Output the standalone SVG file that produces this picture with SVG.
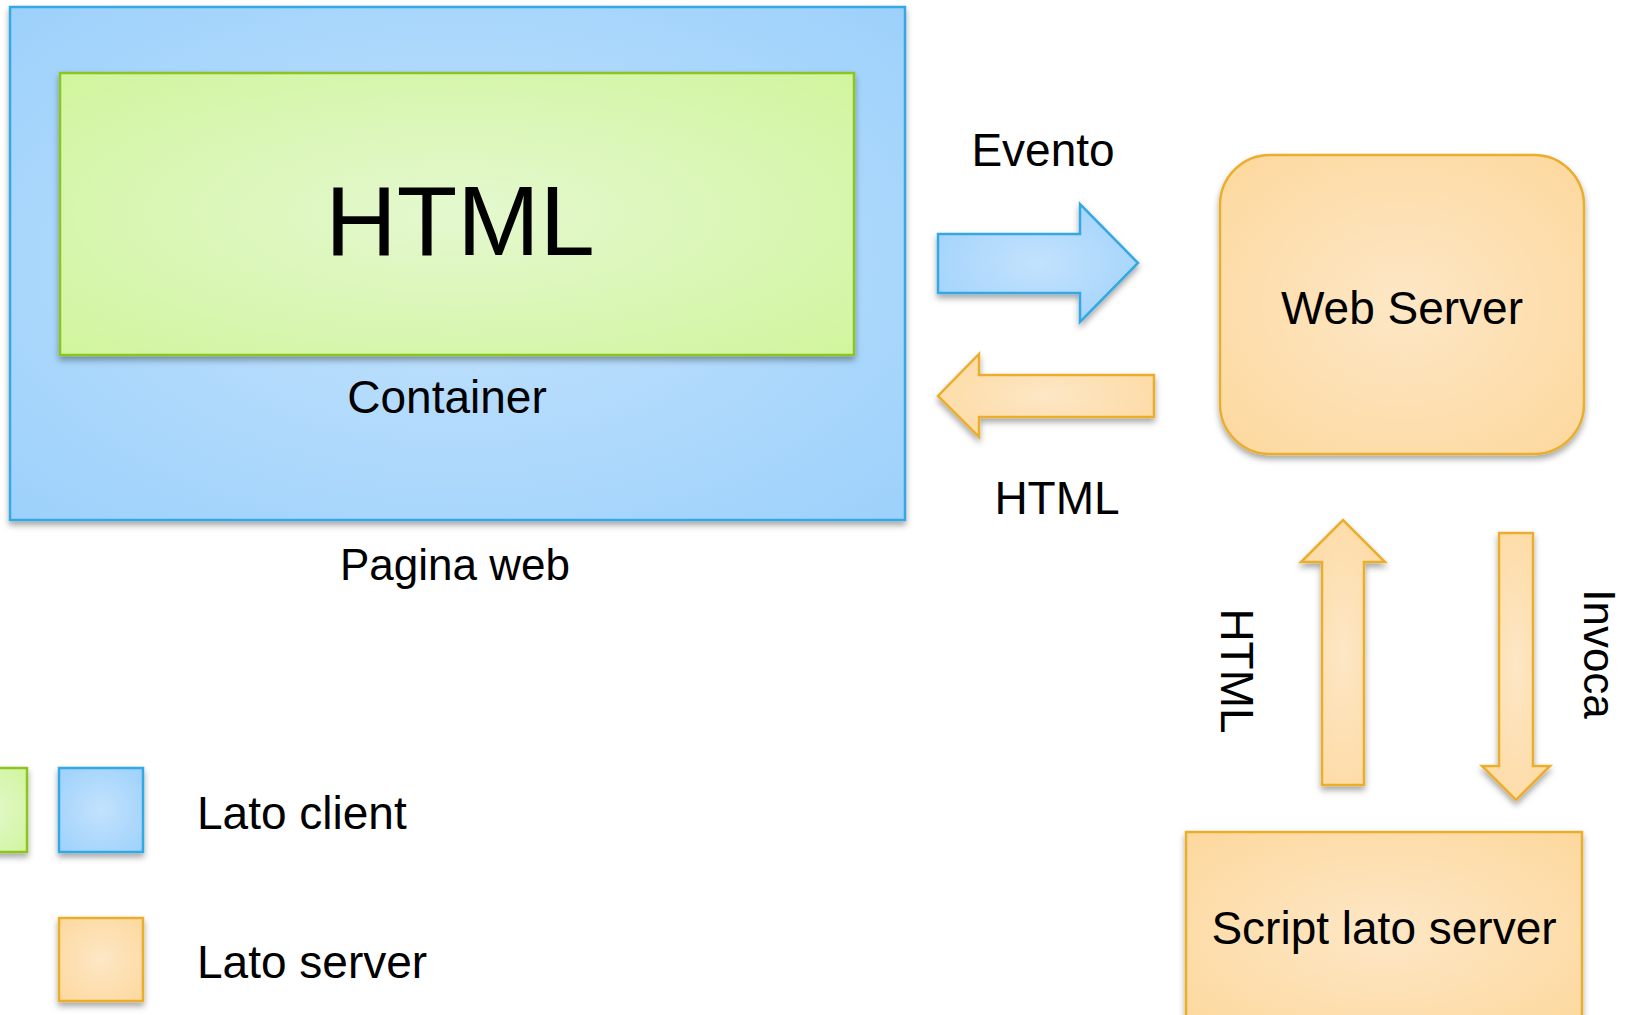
<svg xmlns="http://www.w3.org/2000/svg" width="1636" height="1015" viewBox="0 0 1636 1015">
  <defs>
    <radialGradient id="gBlue" cx="0.5" cy="0.5" r="0.7">
      <stop offset="0" stop-color="#c3e2fd"/>
      <stop offset="1" stop-color="#9dd1fb"/>
    </radialGradient>
    <radialGradient id="gGreen" cx="0.5" cy="0.5" r="0.7">
      <stop offset="0" stop-color="#e4f8cf"/>
      <stop offset="1" stop-color="#d1f59e"/>
    </radialGradient>
    <radialGradient id="gOrange" cx="0.5" cy="0.5" r="0.7">
      <stop offset="0" stop-color="#fde7c6"/>
      <stop offset="1" stop-color="#fdd89d"/>
    </radialGradient>
    <filter id="shadow" x="-10%" y="-10%" width="120%" height="130%">
      <feDropShadow dx="0" dy="4" stdDeviation="3" flood-color="#000" flood-opacity="0.35"/>
    </filter>
  </defs>
  <style>
    .blue { fill: url(#gBlue); stroke: #35a8e3; stroke-width: 2.5; }
    .green { fill: url(#gGreen); stroke: #8cc420; stroke-width: 2.5; }
    .orange { fill: url(#gOrange); stroke: #eaae2e; stroke-width: 2.5; }
    .sh { filter: url(#shadow); }
    text { font-family: "Liberation Sans", Arial, sans-serif; fill: #000; }
    .lbl { font-size: 46px; }
    .mid { text-anchor: middle; }
    .big { font-size: 99px; text-anchor: middle; }
  </style>

  <rect width="1636" height="1015" fill="#fff"/>

  <!-- Web page with its container -->
  <g id="pagina-web">
    <rect class="blue sh" x="10" y="7" width="895" height="513"/>
    <text class="lbl mid" x="447" y="413">Container</text>
    <text class="lbl mid" x="455" y="580" style="font-size:44px">Pagina web</text>
  </g>

  <g id="html-block">
    <rect class="green sh" x="60" y="73" width="794" height="282"/>
    <text class="big" x="460" y="255">HTML</text>
  </g>

  <!-- Server side -->
  <g id="web-server">
    <rect class="orange sh" x="1220" y="155" width="364" height="299" rx="50" ry="50"/>
    <text class="lbl mid" x="1402" y="324">Web Server</text>
  </g>

  <g id="script-server">
    <rect class="orange sh" x="1186" y="832" width="396" height="200"/>
    <text class="lbl mid" x="1384" y="944">Script lato server</text>
  </g>

  <!-- Flow arrows -->
  <g id="connectors">
    <path class="blue sh" d="M938,234 H1080 V204 L1138,263 L1080,322 V293 H938 Z"/>
    <text class="lbl mid" x="1043" y="166">Evento</text>

    <path class="orange sh" d="M1154,375 H979 V354 L938,396 L979,437 V417 H1154 Z"/>
    <text class="lbl mid" x="1057" y="514">HTML</text>

    <path class="orange sh" d="M1322,785 V562 H1301 L1343,520 L1385,562 H1364 V785 Z"/>
    <text class="lbl mid" transform="translate(1221,671) rotate(90)">HTML</text>

    <path class="orange sh" d="M1499,533 H1533 V766 H1550 L1516,800 L1482,766 H1499 Z"/>
    <text class="lbl mid" transform="translate(1584,654) rotate(90)" style="font-size:44px">Invoca</text>
  </g>

  <!-- Legend -->
  <g id="legend-client">
    <rect class="green sh" x="-57" y="768" width="84" height="84"/>
    <rect class="blue sh" x="59" y="768" width="84" height="84"/>
    <text class="lbl" x="197" y="829">Lato client</text>
  </g>
  <g id="legend-server">
    <rect class="orange sh" x="59" y="918" width="84" height="83"/>
    <text class="lbl" x="197" y="978">Lato server</text>
  </g>
</svg>
